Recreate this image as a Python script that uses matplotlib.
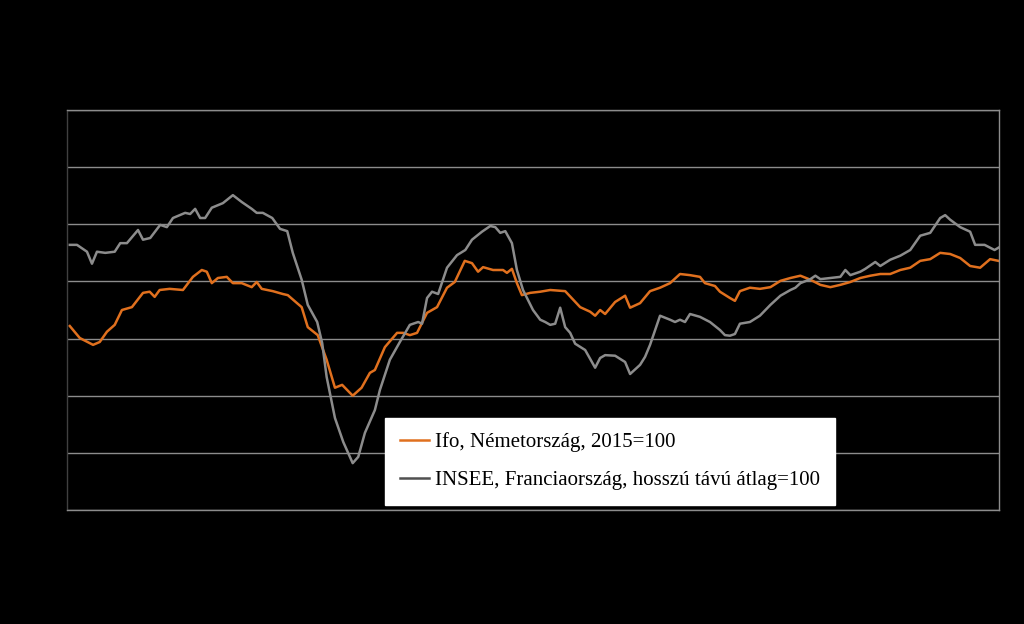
import matplotlib
matplotlib.use("Agg")
import matplotlib.pyplot as plt

ifo_m = [0.5,2.3,4.7,5.9,7.2,8.6,9.9,11.7,13.7,14.9,15.8,16.7,18.5,20.9,22.7,24.3,25.2,26.1,27.2,28.8,29.9,31.5,33.3,34.2,35.1,37.1,38.9,39.8,42.3,43.4,45.2,46.8,48.3,49.6,51.5,53.1,54.6,55.5,57.3,59.5,60.6,61.8,63.1,64.9,66.7,68.5,69.9,71.7,73.0,74.1,75.0,76.8,78.6,79.3,80.2,81.1,82.0,83.5,85.3,87.1,89.8,92.5,94.3,95.2,96.1,97.0,98.8,100.6,101.5,103.3,105.1,106.9,108.7,110.5,112.3,114.1,115.0,116.8,117.7,119.5,120.4,121.3,123.1,124.9,126.8,128.6,130.4,132.2,134.0,135.8,137.6,139.4,141.2,143.0,144.8,146.6,148.4,150.2,152.0,153.8,155.6,157.4,159.2,161.0,162.8,164.6,166.4,167.9]
ifo_v = [92.2,90.1,88.9,89.4,91.2,92.4,95.0,95.5,98.0,98.2,97.3,98.5,98.7,98.5,100.8,102.0,101.7,99.7,100.6,100.8,99.7,99.7,99.0,99.9,98.7,98.3,97.8,97.6,95.5,92.0,90.6,86.3,81.4,81.9,80.0,81.4,84.0,84.5,88.5,91.0,91.0,90.6,91.0,94.5,95.5,98.9,99.9,103.6,103.2,101.7,102.5,102.0,102.0,101.5,102.2,99.7,97.6,98.0,98.2,98.5,98.3,95.5,94.7,94.0,95.0,94.3,96.4,97.5,95.4,96.2,98.3,98.9,99.7,101.3,101.1,100.8,99.7,99.2,98.2,97.1,96.6,98.3,98.9,98.7,99.0,100.1,100.6,101.0,100.3,99.4,99.0,99.4,99.9,100.6,101.0,101.3,101.3,102.0,102.4,103.6,103.9,105.0,104.8,104.1,102.7,102.4,103.9,103.6]

insee_m = [0.5,1.8,3.6,4.5,5.4,6.9,8.6,9.6,10.8,12.8,13.7,15.0,16.8,18.0,19.1,21.3,22.2,23.1,24.0,24.9,26.1,28.1,29.9,31.5,33.3,34.2,35.3,37.0,38.4,39.7,40.7,42.3,43.4,45.1,46.0,46.8,48.3,49.8,51.5,52.5,53.7,55.5,56.4,58.2,60.0,61.8,63.3,64.0,64.9,65.8,66.9,68.5,70.3,71.8,73.0,74.8,76.3,77.2,78.1,79.0,80.2,81.1,82.2,84.0,85.3,86.2,87.1,88.0,88.9,89.8,90.7,91.6,93.4,95.2,96.1,97.0,98.8,100.6,101.5,103.3,104.2,105.1,106.9,108.7,109.6,110.5,111.4,112.3,114.1,115.9,117.7,118.6,119.5,120.4,121.3,123.1,124.9,126.8,128.6,130.4,131.3,132.2,134.0,134.9,135.8,137.6,139.4,140.3,141.2,143.0,143.9,145.7,146.6,148.4,150.2,152.0,153.8,155.6,157.4,158.3,159.2,161.0,162.8,163.7,165.4,167.2,167.9]
insee_v = [106.4,106.4,105.2,103.1,105.2,105.0,105.2,106.7,106.7,109.0,107.3,107.6,109.9,109.5,111.1,112.0,111.8,112.7,111.1,111.1,112.9,113.7,115.1,113.9,112.7,112.0,112.0,111.1,109.2,108.8,105.0,100.3,95.9,92.9,89.2,83.3,76.1,71.9,68.2,69.3,73.5,77.5,81.0,86.3,89.4,92.4,92.9,92.6,97.1,98.2,97.8,102.4,104.6,105.5,107.3,108.7,109.7,109.5,108.5,108.8,106.7,102.0,98.5,95.0,93.3,92.9,92.4,92.6,95.4,92.0,91.0,89.1,88.0,84.9,86.6,87.1,87.0,85.9,83.8,85.4,86.8,88.9,94.0,93.3,92.9,93.3,92.9,94.3,93.8,92.9,91.5,90.6,90.5,90.8,92.6,92.9,94.0,95.9,97.5,98.5,98.9,99.7,100.4,101.0,100.4,100.6,100.8,102.0,101.1,101.7,102.2,103.4,102.7,103.8,104.5,105.5,108.0,108.5,111.1,111.6,110.8,109.5,108.7,106.4,106.4,105.5,105.9]

labels = ["Ifo, Németország, 2015=100", "INSEE, Franciaország, hosszú távú átlag=100"]
yticks = [60, 70, 80, 90, 100, 110, 120, 130]

fig = plt.figure(figsize=(10.24, 6.24), dpi=100, facecolor="black")
ax = fig.add_axes([67/1024, 1-510/624, 932/1024, 400/624], facecolor="black")
ax.plot(ifo_m, ifo_v, color="#E0701E", lw=1.8, label=labels[0])
ax.plot(insee_m, insee_v, color="#8C8C8C", lw=1.8, label=labels[1])
ax.set_xlim(0, 168)
ax.set_ylim(60, 130)
ax.set_yticks(yticks)
ax.set_xticks([])
ax.tick_params(left=False, labelleft=False)
ax.grid(axis="y", color="#8C8C8C", lw=1)
ax.set_axisbelow(True)
for s in ax.spines.values():
    s.set_color("#8C8C8C")
    s.set_linewidth(1)
ax.spines["left"].set_color("#404040")
leg = ax.legend(loc="lower left", bbox_to_anchor=(318/932, 5/400), frameon=True,
                fancybox=False, framealpha=1, facecolor="white", edgecolor="white",
                prop={"family": "Liberation Serif", "size": 15}, handlelength=1.4,
                handletextpad=0.3, borderpad=0.7, labelspacing=0.9, borderaxespad=0)
leg.get_lines()[1].set_color("#505050")
fig.savefig("out.png", dpi=100, facecolor="black")
